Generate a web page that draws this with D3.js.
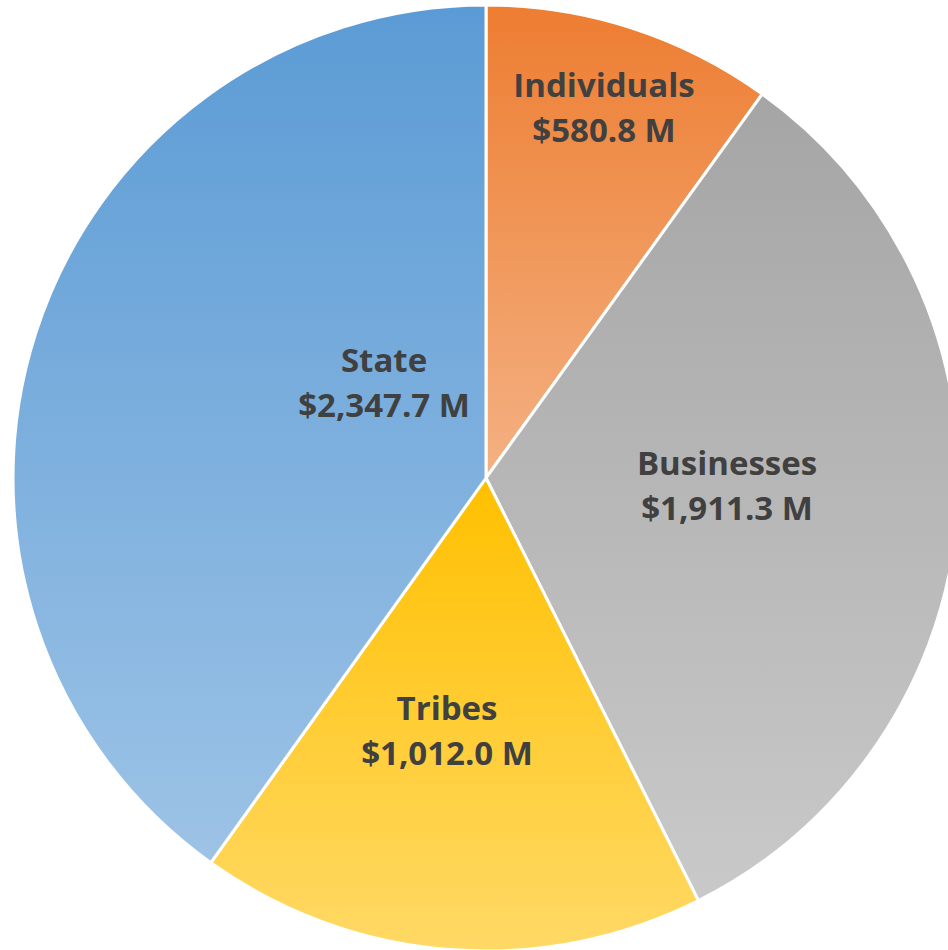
<!DOCTYPE html>
<html>
<head>
<meta charset="utf-8">
<script src="https://cdn.jsdelivr.net/npm/d3@7"></script>
<style>
  html, body { margin: 0; padding: 0; background: #ffffff; }
  svg { display: block; }
</style>
</head>
<body>
<svg id="chart" width="948" height="950"></svg>
<script>
// ---- data ----
const categories = ["Individuals", "Businesses", "Tribes", "State"];
const values = [580.8, 1911.3, 1012.0, 2347.7];
const valueLabels = ["$580.8 M", "$1,911.3 M", "$1,012.0 M", "$2,347.7 M"];

// ---- styles / layout ----
const gradTop = ["#ED7D31", "#A5A5A5", "#FFC000", "#5B9BD5"];
const gradBottom = ["#F4B183", "#C9C9C9", "#FFD966", "#9DC3E6"];
// label anchor offsets (px, relative to pie centre) – layout only
const labelPos = [[118, -381], [241, -3], [-39, 242], [-102, -106]];

const width = 948, height = 950;
const cx = 486, cy = 478, radius = 473;

const svg = d3.select("#chart");
const defs = svg.append("defs");

categories.forEach((c, i) => {
  const g = defs.append("linearGradient")
    .attr("id", "grad" + i)
    .attr("x1", 0).attr("y1", 0).attr("x2", 0).attr("y2", 1);
  g.append("stop").attr("offset", "0%").attr("stop-color", gradTop[i]);
  g.append("stop").attr("offset", "100%").attr("stop-color", gradBottom[i]);
});

const pie = d3.pie().sort(null).value(d => d.value).startAngle(0).endAngle(2 * Math.PI);
const data = categories.map((c, i) => ({ name: c, value: values[i], label: valueLabels[i], i }));
const arcs = pie(data);

const arc = d3.arc().innerRadius(0).outerRadius(radius);

const g = svg.append("g").attr("transform", `translate(${cx},${cy})`);

g.selectAll("path.slice")
  .data(arcs)
  .join("path")
  .attr("class", "slice")
  .attr("d", arc)
  .attr("fill", d => `url(#grad${d.data.i})`)
  .attr("stroke", "#ffffff")
  .attr("stroke-width", 3)
  .attr("stroke-linejoin", "round");

const labels = g.selectAll("text.lbl")
  .data(arcs)
  .join("text")
  .attr("class", "lbl")
  .attr("text-anchor", "middle")
  .attr("font-family", "'Open Sans', 'Noto Sans', sans-serif")
  .attr("font-weight", 700)
  .attr("font-size", 33)
  .attr("fill", "#404040")
  .attr("transform", d => `translate(${labelPos[d.data.i][0]},${labelPos[d.data.i][1]})`);

labels.append("tspan").attr("x", 0).attr("y", 0).text(d => d.data.name);
labels.append("tspan").attr("x", 0).attr("y", 45).text(d => d.data.label);
</script>
</body>
</html>
